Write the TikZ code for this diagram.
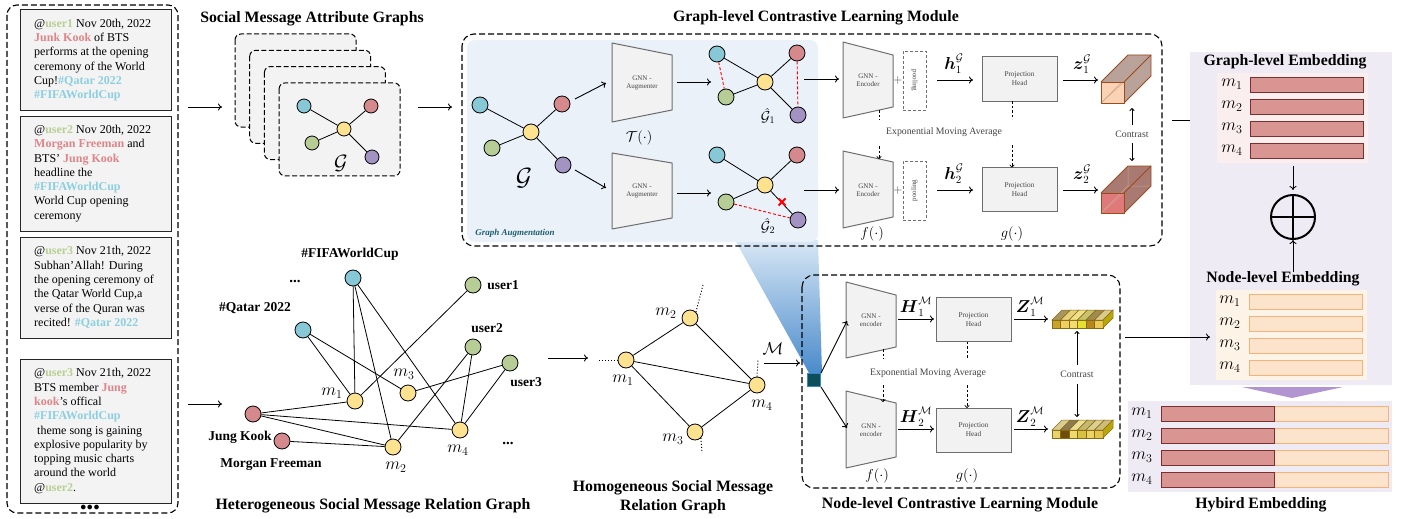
\documentclass[tikz,border=0pt]{standalone}
\usepackage[no-math]{fontspec}
\setmainfont{Liberation Serif}
\usepackage{amsmath,amssymb}
\usetikzlibrary{arrows.meta,calc}
\definecolor{ucol}{HTML}{B8CF92}
\definecolor{ncol}{HTML}{DF858A}
\definecolor{hcol}{HTML}{8CCFE0}
\definecolor{cyanF}{HTML}{86C8D6}
\definecolor{redF}{HTML}{D5898C}
\definecolor{yelF}{HTML}{FDE38F}
\definecolor{greF}{HTML}{B6CE95}
\definecolor{purF}{HTML}{A393C2}
\definecolor{boxF}{HTML}{F3F3F3}
\definecolor{augF}{HTML}{EAF1F9}
\definecolor{augT}{HTML}{D8E7F5}
\definecolor{augB}{HTML}{4A8BCB}
\definecolor{lavF}{HTML}{EFEBF4}
\definecolor{roseF}{HTML}{D99592}
\definecolor{roseD}{HTML}{7A3030}
\definecolor{peachF}{HTML}{FCE4CC}
\definecolor{peachD}{HTML}{F5B27A}
\definecolor{pinkBG}{HTML}{FBEEEE}
\definecolor{peachBG}{HTML}{FDF3E6}
\definecolor{tealT}{HTML}{1E5F6E}
\definecolor{sqF}{HTML}{0C4E5A}
\definecolor{sqD}{HTML}{3A86C8}
\definecolor{grayT}{HTML}{444444}
\definecolor{trapF}{HTML}{F2F2F2}
\definecolor{trapD}{HTML}{6E6E6E}
\definecolor{cubeE}{HTML}{9C4A1E}
\definecolor{cubeS}{HTML}{B8A29A}
\definecolor{cubeF}{HTML}{F9D3B4}
\definecolor{cubeR}{HTML}{E07A7A}
\definecolor{cubeS2}{HTML}{A87A72}
\definecolor{purTri}{HTML}{B294D0}
\definecolor{stripE}{HTML}{8A6A10}

\newcommand{\mycube}[7]{% x y w h front side d
  \fill[#6] (#1,#2) -- ++(#7,-#7) -- ++(#3,0) -- ++(0,#4) -- ++(-#7,#7) -- ++(-#3,0) -- cycle;
  \fill[#5] (#1,#2) rectangle ++(#3,#4);
  \draw[cubeE!50!white, line width=0.5pt] (#1,#2) ++(0,#4) -- ++(#7,-#7) -- ++(0,-#4) ++(0,#4) -- ++(#3,0);
  \draw[cubeE!50!white, line width=0.4pt] (#1,#2) ++(0,#4) -- ++(#3,-#4);
  \draw[cubeE, line width=0.9pt, line join=round] (#1,#2) rectangle ++(#3,#4);
  \draw[cubeE, line width=0.9pt, line join=round] (#1,#2) -- ++(#7,-#7) -- ++(#3,0) -- ++(0,#4) -- ++(-#7,#7);
  \draw[cubeE, line width=0.9pt] (#1,#2) ++(#3,0) -- ++(#7,-#7);
}

\begin{document}
\begin{tikzpicture}[x=1pt,y=-1pt,
  arr/.style={-{To[length=4pt,width=7pt]}, line width=0.9pt},
  darr/.style={-{To[length=3pt,width=5pt]}, line width=0.7pt, dash pattern=on 2.5pt off 2pt},
  dline/.style={line width=0.7pt, dash pattern=on 2.5pt off 2pt},
  bigdash/.style={line width=1.1pt, dash pattern=on 6pt off 3pt},
  gn/.style={circle, draw=black, line width=0.8pt, minimum size=16pt, inner sep=0pt},
  sn/.style={circle, draw=black, line width=0.8pt, minimum size=14pt, inner sep=0pt},
  edge/.style={line width=0.8pt},
  redd/.style={red, line width=0.9pt, dash pattern=on 3pt off 2pt},
  ttl/.style={font=\bfseries\fontsize{15.8}{19}\selectfont},
  lbl/.style={font=\bfseries\fontsize{13.5}{15}\selectfont},
  tweetbox/.style={draw=black!85, line width=1pt, fill=boxF, minimum width=151pt, inner sep=0pt},
  tweettext/.style={anchor=west, align=left, inner sep=0pt, font=\fontsize{12}{14.3}\selectfont},
  trap/.style={fill=trapF, draw=trapD, line width=1pt, line join=round},
  tiny/.style={align=center, font=\fontsize{7}{8.5}\selectfont, text=grayT, inner sep=0pt},
  proj/.style={fill=trapF, draw=trapD, line width=1pt, minimum width=75pt, minimum height=44pt, align=center, font=\fontsize{7.3}{9}\selectfont, text=grayT, inner sep=0pt},
  pool/.style={draw=trapD, line width=0.9pt, dash pattern=on 3pt off 2pt, minimum width=23pt, minimum height=59pt, inner sep=0pt},
  ema/.style={font=\fontsize{9.8}{11}\selectfont, text=grayT},
  mlab/.style={font=\fontsize{16.5}{17}\selectfont, inner sep=0pt},
  mth/.style={font=\fontsize{16}{17}\selectfont, inner sep=0pt},
  fg/.style={font=\fontsize{15}{16}\selectfont, inner sep=0pt},
  rosebar/.style={fill=roseF, draw=roseD, line width=0.8pt},
  peachbar/.style={fill=peachF, draw=peachD, line width=0.8pt}
]
\useasboundingbox (0,0) rectangle (1411,519);
\fill[white] (0,0) rectangle (1411,519);

%% ---------------- Left tweet panel ----------------
\draw[bigdash, rounded corners=10pt] (7,5) rectangle (178,513);
\coordinate (panelE1) at (188,107);
\coordinate (panelE2) at (188,404);
\node[tweetbox, minimum height=100pt] (b1) at (95.5,60) {};
\node[tweetbox, minimum height=115pt] (b2) at (95.5,173.5) {};
\node[tweetbox, minimum height=101pt] (b3) at (95.5,287.5) {};
\node[tweetbox, minimum height=144pt] (b4) at (95.5,431) {};
\node[tweettext] (t1) at (34,60) {@\textbf{\textcolor{ucol}{user1}} Nov 20th, 2022\\
\textbf{\textcolor{ncol}{Junk Kook}} of BTS\\
performs at the opening\\
ceremony of the World\\
Cup!\textbf{\textcolor{hcol}{\#Qatar 2022}}\\
\textbf{\textcolor{hcol}{\#FIFAWorldCup}}};
\node[tweettext] (t2) at (34,173.5) {@\textbf{\textcolor{ucol}{user2}} Nov 20th, 2022\\
\textbf{\textcolor{ncol}{Morgan Freeman}} and\\
BTS' \textbf{\textcolor{ncol}{Jung Kook}}\\
headline the\\
\textbf{\textcolor{hcol}{\#FIFAWorldCup}}\\
World Cup opening\\
ceremony};
\node[tweettext] (t3) at (34,287.5) {@\textbf{\textcolor{ucol}{user3}} Nov 21th, 2022\\
Subhan'Allah! During\\
the opening ceremony of\\
the Qatar World Cup,a\\
verse of the Quran was\\
recited! \textbf{\textcolor{hcol}{\#Qatar 2022}}};
\node[tweettext] (t4) at (34,431) {@\textbf{\textcolor{ucol}{user3}} Nov 21th, 2022\\
BTS member \textbf{\textcolor{ncol}{Jung}}\\
\textbf{\textcolor{ncol}{kook}}'s offical\\
\textbf{\textcolor{hcol}{\#FIFAWorldCup}}\\
\ theme song is gaining\\
explosive popularity by\\
topping music charts\\
around the world\\
@\textbf{\textcolor{ucol}{user2}}.};
\node[font=\bfseries\fontsize{12}{12}\selectfont, inner sep=0pt] (ldots) at (90,508) {$\bullet\!\bullet\!\bullet$};

%% ---------------- Social Message Attribute Graphs ----------------
\node[ttl] (satitle) at (312,19) {Social Message Attribute Graphs};
\foreach \k in {0,1,2,3} {
  \draw[fill=boxF, line width=1pt, dash pattern=on 5pt off 2.5pt, rounded corners=6pt]
    ({235+14.7*\k},{34+16.3*\k}) rectangle ++(121,93);
}
\node[sn, fill=cyanF] (sc) at (304,106) {};
\node[sn, fill=redF] (sr) at (371,106) {};
\node[sn, fill=yelF] (sy) at (344,129) {};
\node[sn, fill=greF] (sg) at (312,143) {};
\node[sn, fill=purF] (sp) at (372,157) {};
\foreach \a in {sc,sr,sg,sp} \draw[edge] (sy) -- (\a);
\node[font=\fontsize{22}{22}\selectfont] (sG) at (341,163) {$\mathcal{G}$};
\coordinate (saIn) at (222,107);
\coordinate (saOut) at (418,107);
\coordinate (gmIn) at (452,107);
\draw[arr] (panelE1) -- (saIn);
\draw[arr] (saOut) -- (gmIn);

%% ---------------- Graph-level module ----------------
\shade[top color=augT, bottom color=augB] (735,240) -- (818,240) -- (822,373) -- (809,373) -- cycle;
\fill[augF, rounded corners=8pt] (467,40) rectangle (818,242);
\draw[bigdash, rounded corners=12pt] (462,34) rectangle (1162,246);
\node[ttl] (gtitle) at (816,18) {Graph-level Contrastive Learning Module};
\node[font=\bfseries\itshape\fontsize{9}{10}\selectfont, text=tealT] (gatxt) at (515,233) {Graph Augmentation};

% original graph
\node[gn, fill=cyanF] (gc) at (480,105) {};
\node[gn, fill=redF] (gr) at (562,104) {};
\node[gn, fill=yelF] (gy) at (531,132) {};
\node[gn, fill=greF] (gg) at (492,148) {};
\node[gn, fill=purF] (gp) at (563,165) {};
\foreach \a in {gc,gr,gg,gp} \draw[edge] (gy) -- (\a);
\node[font=\fontsize{24}{24}\selectfont] (gG) at (524,178) {$\mathcal{G}$};
\coordinate (ga1s) at (575,99); \coordinate (ga1e) at (606,83);
\coordinate (ga2s) at (575,170); \coordinate (ga2e) at (606,188);
\draw[arr] (ga1s) -- (ga1e);
\draw[arr] (ga2s) -- (ga2e);

% augmenters
\draw[trap] (612,43) -- (672,55) -- (672,110) -- (612,122) -- cycle;
\draw[trap] (612,153) -- (672,163) -- (672,218) -- (612,229) -- cycle;
\node[tiny] (aug1) at (642,83) {GNN -\\Augmenter};
\node[tiny] (aug2) at (642,191) {GNN -\\Augmenter};
\node[fg] (Tlab) at (639,138) {$\mathcal{T}(\cdot)$};
\coordinate (au1o) at (677,82); \coordinate (au1e) at (711,82);
\coordinate (au2o) at (677,193); \coordinate (au2e) at (711,193);
\draw[arr] (au1o) -- (au1e);
\draw[arr] (au2o) -- (au2e);

% G hat 1
\node[gn, fill=cyanF] (ac) at (717,54) {};
\node[gn, fill=redF] (ar) at (797,53) {};
\node[gn, fill=yelF] (ay) at (765,82) {};
\node[gn, fill=greF] (ag) at (726,97) {};
\node[gn, fill=purF] (ap) at (798,115) {};
\foreach \a in {ac,ar,ag,ap} \draw[edge] (ay) -- (\a);
\draw[redd] (ac) -- (ag);
\draw[redd] (ar) -- (ap);
\node[font=\fontsize{14}{15}\selectfont, inner sep=0pt] (ah) at (768,116) {$\hat{\mathcal{G}}_1$};
% G hat 2
\node[gn, fill=cyanF] (bc) at (717,155) {};
\node[gn, fill=redF] (br) at (797,155) {};
\node[gn, fill=yelF] (by) at (765,185) {};
\node[gn, fill=greF] (bg) at (726,202) {};
\node[gn, fill=purF] (bp) at (798,220) {};
\foreach \a in {bc,br,bg,bp} \draw[edge] (by) -- (\a);
\draw[redd] (bg) -- (bp);
\node[inner sep=0pt] (xm) at (782,202) {};
\draw[red, line width=1.8pt] ($(xm)+(-3.5,-3.5)$) -- ($(xm)+(3.5,3.5)$) ($(xm)+(-3.5,3.5)$) -- ($(xm)+(3.5,-3.5)$);
\node[font=\fontsize{14}{15}\selectfont, inner sep=0pt] (bh) at (768,226) {$\hat{\mathcal{G}}_2$};

% to encoders
\coordinate (e1s) at (804,79); \coordinate (e1e) at (839,79);
\coordinate (e2s) at (804,190); \coordinate (e2e) at (839,190);
\draw[arr] (e1s) -- (e1e);
\draw[arr] (e2s) -- (e2e);
\draw[trap] (843,42) -- (893,55) -- (893,107) -- (843,118) -- cycle;
\draw[trap] (843,151) -- (893,162) -- (893,217) -- (843,228) -- cycle;
\node[tiny] (enc1) at (868,80) {GNN -\\Encoder};
\node[tiny] (enc2) at (868,190) {GNN -\\Encoder};
\node[font=\fontsize{13}{13}\selectfont, text=black!75] (plus1) at (898,80) {$+$};
\node[font=\fontsize{13}{13}\selectfont, text=black!75] (plus2) at (898,190) {$+$};
\node[pool] (pool1) at (914.5,80.5) {};
\node[pool] (pool2) at (914.5,190.5) {};
\node[tiny, rotate=-90] (pt1) at (914.5,80.5) {pooling};
\node[tiny, rotate=90] (pt2) at (914.5,190.5) {pooling};
\node[mth] (h1) at (954,64) {$\boldsymbol{h}_1^{\mathcal{G}}$};
\node[mth] (h2) at (954,174) {$\boldsymbol{h}_2^{\mathcal{G}}$};
\coordinate (h1s) at (937,80); \coordinate (h1e) at (973,80);
\coordinate (h2s) at (937,190); \coordinate (h2e) at (973,190);
\draw[arr] (h1s) -- (h1e);
\draw[arr] (h2s) -- (h2e);
\node[proj] (ph1) at (1019.5,79) {Projection\\Head};
\node[proj] (ph2) at (1019.5,189.5) {Projection\\Head};
\node[mth] (z1) at (1082,64) {$\boldsymbol{z}_1^{\mathcal{G}}$};
\node[mth] (z2) at (1082,174) {$\boldsymbol{z}_2^{\mathcal{G}}$};
\coordinate (z1s) at (1063,80); \coordinate (z1e) at (1098,80);
\coordinate (z2s) at (1063,190); \coordinate (z2e) at (1098,190);
\draw[arr] (z1s) -- (z1e);
\draw[arr] (z2s) -- (z2e);
\node[fg] (flab) at (872,234) {$f(\cdot)$};
\node[fg] (glab) at (1012,234) {$g(\cdot)$};
\node[ema] (ema1) at (944,132) {Exponential Moving Average};
\draw[dline] (879,110) -- (879,120);
\draw[darr] (879,146) -- (879,159);
\draw[dline] (1012,101) -- (1012,119);
\draw[darr] (1012,145) -- (1012,167.5);
% cuboids
\mycube{1101}{82}{23}{21}{cubeF}{cubeS}{27}
\mycube{1101}{193}{23}{20}{cubeR}{cubeS2}{27}
\node[ema] (con1) at (1132,134) {Contrast};
\draw[-{To[length=3pt,width=5pt]}, line width=0.8pt] (1132,125) -- (1132,108);
\draw[-{To[length=3pt,width=5pt]}, line width=0.8pt] (1132,143) -- (1132,161);
\coordinate (gmOut) at (1172,120); \coordinate (geIn) at (1212,120);
\draw[arr] (gmOut) -- (geIn);

%% ---------------- Right embedding panels ----------------
\fill[lavF] (1190,52) rectangle (1392,385);
\node[ttl] (getitle) at (1285,62) {Graph-level Embedding};
\fill[pinkBG] (1217,73) rectangle (1368,163);
\foreach \i/\y in {1/85,2/107,3/129,4/151} {
  \draw[rosebar] (1250,{\y-7.5}) rectangle (1363,{\y+7.5});
  \node[mlab] at (1232,{\y-1}) {$m_{\i}$};
}
\coordinate (ge1) at (1293,166); \coordinate (ge2) at (1293,190);
\draw[arr] (ge1) -- (ge2);
\node[circle, draw, line width=2pt, minimum size=44pt, inner sep=0pt] (oplus) at (1293,217) {};
\draw[line width=2pt] (oplus.north) -- (oplus.south) (oplus.west) -- (oplus.east);
\coordinate (ne1) at (1293,272);
\draw[arr] (ne1) -- (oplus.south);
\node[ttl] (netitle) at (1283,279) {Node-level Embedding};
\fill[peachBG] (1216,290) rectangle (1367,380);
\foreach \i/\y in {1/302,2/324,3/346,4/368} {
  \draw[peachbar] (1249,{\y-7.5}) rectangle (1362,{\y+7.5});
  \node[mlab] at (1230,{\y-1}) {$m_{\i}$};
}
\fill[purTri] (1242,387) -- (1343,387) -- (1292,398) -- cycle;
\fill[lavF] (1128,401) rectangle (1392,492);
\foreach \i/\y in {1/414,2/436,3/458,4/480} {
  \draw[peachbar] (1274,{\y-7.5}) rectangle (1388,{\y+7.5});
  \draw[rosebar] (1161,{\y-7.5}) rectangle (1274,{\y+7.5});
  \node[mlab] at (1142,{\y-1}) {$m_{\i}$};
}
\node[ttl] (hytitle) at (1261,505) {Hybird Embedding};

%% ---------------- Heterogeneous graph ----------------
\coordinate (hgIn) at (222,404);
\draw[arr] (panelE2) -- (hgIn);
\node[gn, fill=cyanF] (fifa) at (353,278) {};
\node[gn, fill=cyanF] (qatar) at (303,330) {};
\node[gn, fill=greF] (u1) at (473,285) {};
\node[gn, fill=greF] (u2) at (473,347) {};
\node[gn, fill=greF] (u3) at (510,363) {};
\node[gn, fill=yelF] (m1) at (355,401) {};
\node[gn, fill=yelF] (m3) at (408,393) {};
\node[gn, fill=yelF] (m4) at (460,430) {};
\node[gn, fill=yelF] (m2) at (393,447) {};
\node[gn, fill=redF] (jk) at (253,414) {};
\node[gn, fill=redF] (mf) at (282,441) {};
\foreach \a/\b in {qatar/m1,qatar/m3,fifa/m1,fifa/m2,fifa/m4,u1/m1,u2/m2,u2/m4,u3/m3,u3/m4,jk/m1,jk/m2,jk/m4,mf/m2}
  \draw[edge] (\a) -- (\b);
\node[lbl] (lfifa) at (350,254) {\#FIFAWorldCup};
\node[lbl] (lqatar) at (255,308) {\#Qatar 2022};
\node[lbl] (lu1) at (503,285) {user1};
\node[lbl] (lu2) at (487,328) {user2};
\node[lbl] (lu3) at (526,382) {user3};
\node[lbl] (ljk) at (240,437) {Jung Kook};
\node[lbl] (lmf) at (271,465) {Morgan Freeman};
\node[mlab] (lm1) at (332,393) {$m_1$};
\node[mlab] (lm3) at (404,374) {$m_3$};
\node[mlab] (lm4) at (458,450) {$m_4$};
\node[mlab] (lm2) at (396,467) {$m_2$};
\node[font=\bfseries\fontsize{15}{15}\selectfont, inner sep=0pt] (dots1) at (295,281) {...};
\node[font=\bfseries\fontsize{15}{15}\selectfont, inner sep=0pt] (dots2) at (508,443) {...};
\node[ttl] (hettitle) at (373,506) {Heterogeneous Social Message Relation Graph};

%% ---------------- Homogeneous graph ----------------
\coordinate (hoS) at (548,358); \coordinate (hoE) at (588,358);
\draw[arr] (hoS) -- (hoE);
\node[gn, fill=yelF] (hm1) at (626,360) {};
\node[gn, fill=yelF] (hm2) at (690,318) {};
\node[gn, fill=yelF] (hm4) at (757,385) {};
\node[gn, fill=yelF] (hm3) at (695,432) {};
\foreach \a/\b in {hm1/hm2,hm1/hm4,hm1/hm3,hm2/hm4,hm3/hm4} \draw[edge] (\a) -- (\b);
\draw[line width=1pt, dotted] (hm1.west) -- (597,360);
\draw[line width=1pt, dotted] (hm2.north east) -- (703,285);
\draw[line width=1pt, dotted] (hm4.north) -- (758,360);
\draw[line width=1pt, dotted] (hm3.south east) -- (702,453);
\node[mlab] (lhm1) at (623,380) {$m_1$};
\node[mlab] (lhm2) at (666,313) {$m_2$};
\node[mlab] (lhm4) at (762,405) {$m_4$};
\node[mlab] (lhm3) at (673,439) {$m_3$};
\node[ttl, align=center] (homtitle) at (673,497) {Homogeneous Social Message\\Relation Graph};
\node[font=\fontsize{16}{16}\selectfont] (Mlab) at (773,349) {$\mathcal{M}$};
\node[fill=sqF, draw=sqD, line width=1pt, minimum size=13pt, inner sep=0pt] (sq) at (814,380) {};
\coordinate (Ms) at (764,363); \coordinate (Me) at (800,363);
\draw[arr] (Ms) -- (Me);

%% ---------------- Node-level module ----------------
\draw[bigdash, rounded corners=12pt] (802,275) rectangle (1120,488);
\node[ttl] (ntitle) at (960,505) {Node-level Contrastive Learning Module};
\draw[trap] (846,282) -- (896,295) -- (896,347) -- (846,358) -- cycle;
\draw[trap] (846,391) -- (896,403) -- (896,457) -- (846,468) -- cycle;
\node[tiny] (nenc1) at (871,320) {GNN -\\encoder};
\node[tiny] (nenc2) at (871,430) {GNN -\\encoder};
\coordinate (ne1t) at (847,321); \coordinate (ne2t) at (847,428);
\draw[arr] (sq.north east) -- (ne1t);
\draw[arr] (sq.south east) -- (ne2t);
\node[mth] (H1) at (916,307) {$\boldsymbol{H}_1^{\mathcal{M}}$};
\node[mth] (H2) at (916,417) {$\boldsymbol{H}_2^{\mathcal{M}}$};
\coordinate (H1s) at (898,319); \coordinate (H1e) at (934,319);
\coordinate (H2s) at (898,429); \coordinate (H2e) at (934,429);
\draw[arr] (H1s) -- (H1e);
\draw[arr] (H2s) -- (H2e);
\node[proj] (nph1) at (973.5,319.5) {Projection\\Head};
\node[proj] (nph2) at (973.5,430) {Projection\\Head};
\node[mth] (Z1) at (1030,307) {$\boldsymbol{Z}_1^{\mathcal{M}}$};
\node[mth] (Z2) at (1030,417) {$\boldsymbol{Z}_2^{\mathcal{M}}$};
\coordinate (Z1s) at (1014,319); \coordinate (Z1e) at (1048,319);
\coordinate (Z2s) at (1014,429); \coordinate (Z2e) at (1048,429);
\draw[arr] (Z1s) -- (Z1e);
\draw[arr] (Z2s) -- (Z2e);
\node[fg] (nf) at (877,476) {$f(\cdot)$};
\node[fg] (ng) at (967,476) {$g(\cdot)$};
\node[ema] (ema2) at (928,373) {Exponential Moving Average};
\draw[dline] (883,349) -- (883,359);
\draw[darr] (883,385) -- (883,402);
\draw[dline] (967,341.5) -- (967,359);
\draw[darr] (967,385) -- (967,408);
% strips
\foreach \c/\t [count=\i from 0] in {C9A227/A99560,EDD060/E6D27C,F3DC6E/EFE08C,E6E030/C9C26E,B8861B/A08A50,E9CB55/D9CA8E} {
  \definecolor{cf}{HTML}{\c}\definecolor{ct}{HTML}{\t}
  \fill[cf, draw=stripE, line width=0.5pt] ({1052+8.5*\i},320) rectangle ++(8.5,8);
  \fill[ct, draw=stripE, line width=0.5pt] ({1052+8.5*\i},320) -- ++(10,-10) -- ++(8.5,0) -- ++(-10,10) -- cycle;
}
\fill[fill=stripE!60!yellow, draw=stripE, line width=0.5pt] (1103,320) -- ++(10,-10) -- ++(0,8) -- ++(-10,10) -- cycle;
\foreach \c/\t [count=\i from 0] in {E8D36A/D8CC90,6E4E0A/8E7A50,F0DA70/EADF96,D8C040/C6B86E,EBD462/DCCF92,E2C44E/CDBD7A} {
  \definecolor{cf}{HTML}{\c}\definecolor{ct}{HTML}{\t}
  \fill[cf, draw=stripE, line width=0.5pt] ({1052+8.5*\i},430) rectangle ++(8.5,8);
  \fill[ct, draw=stripE, line width=0.5pt] ({1052+8.5*\i},430) -- ++(10,-10) -- ++(8.5,0) -- ++(-10,10) -- cycle;
}
\fill[fill=stripE!60!yellow, draw=stripE, line width=0.5pt] (1103,430) -- ++(10,-10) -- ++(0,8) -- ++(-10,10) -- cycle;
\node[ema] (con2) at (1077,374) {Contrast};
\draw[-{To[length=3pt,width=5pt]}, line width=0.8pt] (1077,365) -- (1077,331);
\draw[-{To[length=3pt,width=5pt]}, line width=0.8pt] (1077,384) -- (1077,417);
\coordinate (nmOut) at (1125,337); \coordinate (neIn) at (1210,337);
\draw[arr] (nmOut) -- (neIn);
\end{tikzpicture}
\end{document}
